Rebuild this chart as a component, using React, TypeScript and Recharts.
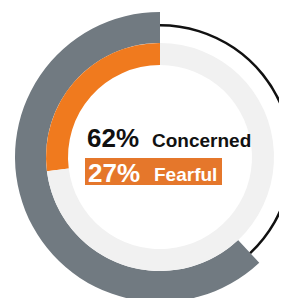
import { PieChart, Pie, Cell } from 'recharts'

const concernedData = [
  { name: 'Concerned', value: 62 },
  { name: 'Rest', value: 38 },
]

const fearfulData = [
  { name: 'Fearful', value: 27 },
  { name: 'Rest', value: 73 },
]

const labelValues = ['62%', '27%']
const labelNames = ['Concerned', 'Fearful']

const GREY = '#717a81'
const ORANGE = '#f07a1e'
const BOX = '#e5772b'
const TRACK = '#f1f1f1'
const FONT = "'Liberation Sans', Arial, sans-serif"

export default function App() {
  return (
    <div style={{ position: 'relative', width: 287, height: 306, margin: -8, background: '#fff' }}>
      <PieChart width={287} height={306}>
        <Pie
          data={concernedData}
          dataKey="value"
          cx={155}
          cy={152}
          innerRadius={114}
          outerRadius={145}
          startAngle={90}
          endAngle={450}
          stroke="none"
          isAnimationActive={false}
        >
          <Cell fill={GREY} />
          <Cell fill="transparent" />
        </Pie>
        <Pie
          data={concernedData}
          dataKey="value"
          cx={155}
          cy={152}
          innerRadius={130.5}
          outerRadius={133}
          startAngle={90}
          endAngle={450}
          stroke="none"
          isAnimationActive={false}
        >
          <Cell fill="transparent" />
          <Cell fill="#111" />
        </Pie>
        <Pie
          data={fearfulData}
          dataKey="value"
          cx={155}
          cy={152}
          innerRadius={92}
          outerRadius={114}
          startAngle={90}
          endAngle={450}
          stroke="none"
          isAnimationActive={false}
        >
          <Cell fill={ORANGE} />
          <Cell fill={TRACK} />
        </Pie>
      </PieChart>
      <svg width={287} height={306} style={{ position: 'absolute', left: 0, top: 0 }}>
        <text x={87} y={147} fontFamily={FONT} fontWeight="bold" fontSize={26} fill="#111">
          {labelValues[0]}
        </text>
        <text x={152} y={147} fontFamily={FONT} fontWeight="bold" fontSize={19} fill="#111">
          {labelNames[0]}
        </text>
        <rect x={85} y={158} width={137} height={27} fill={BOX} />
        <text x={88} y={182} fontFamily={FONT} fontWeight="bold" fontSize={26} fill="#fff">
          {labelValues[1]}
        </text>
        <text x={154} y={181} fontFamily={FONT} fontWeight="bold" fontSize={19} fill="#fff">
          {labelNames[1]}
        </text>
      </svg>
    </div>
  )
}
